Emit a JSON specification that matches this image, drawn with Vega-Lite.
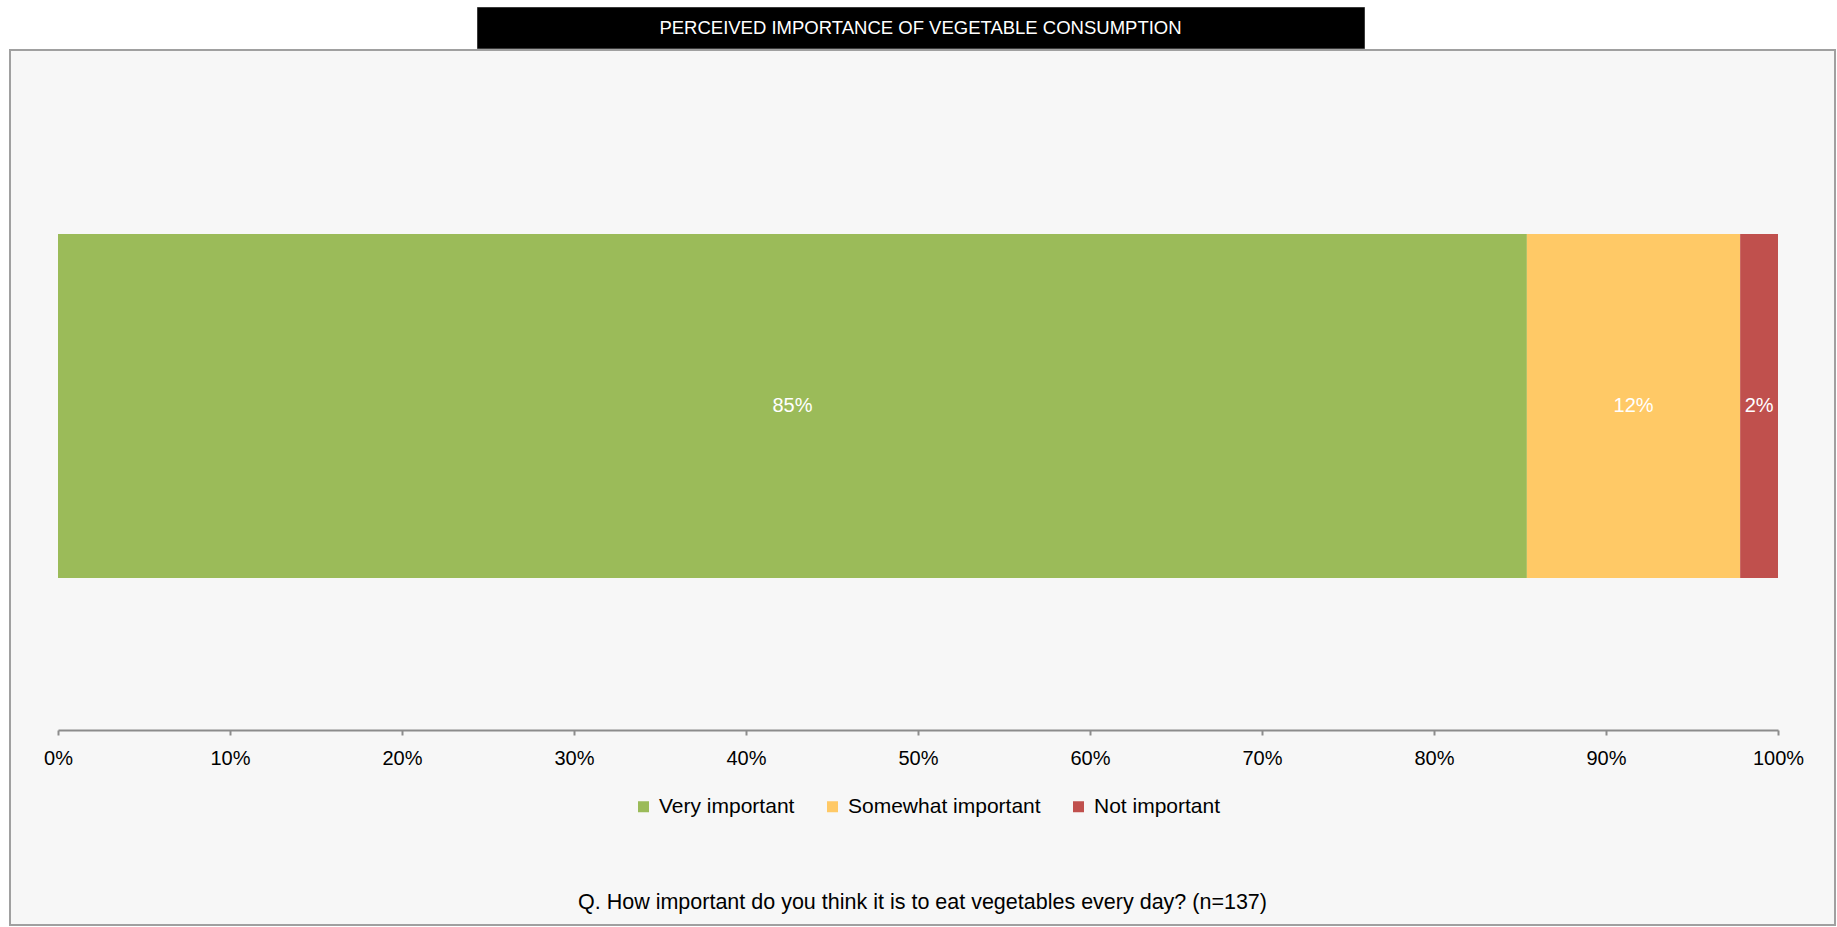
{
  "$schema": "https://vega.github.io/schema/vega-lite/v6.json",
  "background": "white",
  "padding": {"left": 9, "top": 6, "right": 3, "bottom": 2},
  "config": {"view": {"stroke": null}, "font": "Liberation Sans"},
  "spacing": 0,
  "bounds": "full",
  "vconcat": [
    {
      "hconcat": [
        {
          "width": 467,
          "height": 41,
          "view": {"stroke": null, "fill": null},
          "data": {"values": [{"t": ""}]},
          "mark": {"type": "text"},
          "encoding": {"text": {"field": "t"}}
        },
        {
          "width": 887,
          "height": 41,
          "view": {"fill": "#000000", "stroke": "#3A3A3A", "strokeWidth": 1},
          "data": {"values": [{"title": "PERCEIVED IMPORTANCE OF VEGETABLE CONSUMPTION"}]},
          "mark": {"type": "text", "color": "#FFFFFF", "fontSize": 18.5, "font": "Liberation Sans", "baseline": "middle"},
          "encoding": {"text": {"field": "title"}}
        }
      ],
      "spacing": 0,
      "bounds": "flush"
    },
    {
      "width": 1825,
      "height": 875,
      "view": {"fill": "#F7F7F7", "stroke": "#A0A0A0", "strokeWidth": 2},
      "title": {
        "text": "Q. How important do you think it is to eat vegetables every day? (n=137)",
        "orient": "bottom",
        "frame": "group",
        "anchor": "middle",
        "offset": -16,
        "baseline": "alphabetic",
        "fontSize": 21.5,
        "font": "Liberation Sans",
        "fontWeight": "normal",
        "color": "#000000"
      },
      "data": {
        "values": [
          {"q": "Q", "category": "Very important", "value": 0.854, "rank": 1},
          {"q": "Q", "category": "Somewhat important", "value": 0.124, "rank": 2},
          {"q": "Q", "category": "Not important", "value": 0.022, "rank": 3}
        ]
      },
      "transform": [
        {"stack": "value", "groupby": ["q"], "sort": [{"field": "rank", "order": "ascending"}], "as": ["v0", "v1"]},
        {"calculate": "(datum.v0 + datum.v1) / 2", "as": "mid"}
      ],
      "layer": [
        {
          "mark": {"type": "bar"},
          "encoding": {
            "y": {"field": "q", "type": "nominal", "axis": null, "scale": {"range": [184, 528], "paddingInner": 0, "paddingOuter": 0}},
            "x": {
              "field": "v0", "type": "quantitative",
              "scale": {"domain": [0, 1], "range": [48, 1768], "nice": false},
              "axis": {
                "orient": "bottom",
                "offset": -195,
                "values": [0, 0.1, 0.2, 0.3, 0.4, 0.5, 0.6, 0.7, 0.8, 0.9, 1],
                "format": ".0%",
                "title": null,
                "grid": false,
                "labelFontSize": 20,
                "labelFont": "Liberation Sans",
                "labelColor": "#000000",
                "labelPadding": 13,
                "labelFlush": false,
                "domainColor": "#8C8C8C",
                "domainWidth": 2,
                "tickColor": "#8C8C8C",
                "tickWidth": 2,
                "tickSize": 5
              }
            },
            "x2": {"field": "v1"},
            "color": {
              "field": "category", "type": "nominal",
              "scale": {"domain": ["Very important", "Somewhat important", "Not important"], "range": ["#9BBB59", "#FFC966", "#C0504D"]},
              "legend": {
                "title": null,
                "orient": "none",
                "direction": "horizontal",
                "legendX": 623,
                "legendY": 789,
                "symbolType": "square",
                "symbolSize": 121,
                "symbolStrokeWidth": 0,
                "labelFontSize": 21,
                "labelFont": "Liberation Sans",
                "labelColor": "#000000",
                "labelOffset": 5,
                "labelLimit": 0,
                "columnPadding": 27,
                "encode": {
                  "symbols": {
                    "update": {
                      "fill": [
                        {"test": "datum.value === 'Not important'", "value": "#953735"},
                        {"scale": "color", "field": "value"}
                      ]
                    }
                  }
                }
              }
            }
          }
        },
        {
          "mark": {"type": "text", "color": "#FFFFFF", "fontSize": 20, "font": "Liberation Sans", "baseline": "middle", "align": "center"},
          "encoding": {
            "y": {"field": "q", "type": "nominal"},
            "x": {"field": "mid", "type": "quantitative"},
            "text": {"field": "value", "type": "quantitative", "format": ".0%"}
          }
        }
      ]
    }
  ]
}
